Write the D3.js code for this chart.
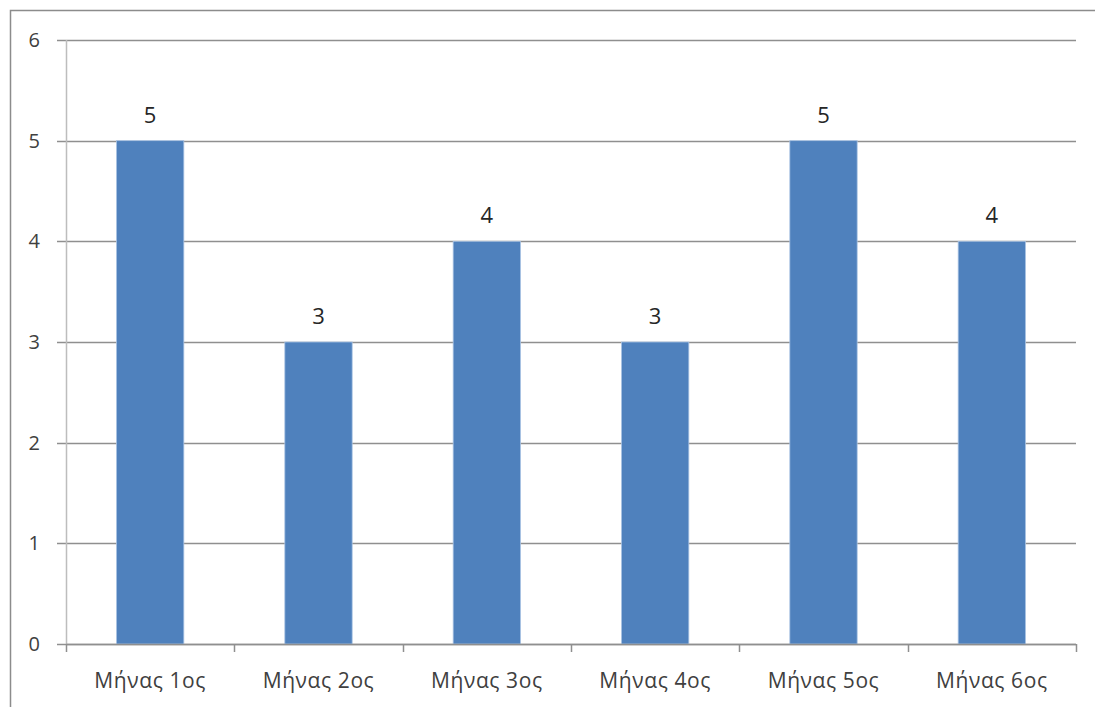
<!DOCTYPE html>
<html>
<head>
<meta charset="utf-8">
<script src="https://cdn.jsdelivr.net/npm/d3@7"></script>
<style>
  body { margin: 0; background: #fff; }
  text { font-family: "Open Sans", "Liberation Sans", sans-serif; fill: #404040; }
</style>
</head>
<body>
<script>
const months = ["Μήνας 1ος", "Μήνας 2ος", "Μήνας 3ος", "Μήνας 4ος", "Μήνας 5ος", "Μήνας 6ος"];
const counts = [5, 3, 4, 3, 5, 4];
const yTicks = [0, 1, 2, 3, 4, 5, 6];

const width = 1095, height = 707;
const plotLeft = 66, plotRight = 1076, plotTop = 40, plotBottom = 644;

const svg = d3.select("body").append("svg")
    .attr("width", width)
    .attr("height", height);

// outer chart border (only left/top visible in the picture)
svg.append("path")
    .attr("d", `M10.5,${height} V10.5 H${width}`)
    .attr("fill", "none")
    .attr("stroke", "#8c8c8c")
    .attr("stroke-width", 1.5);

const x = d3.scaleBand().domain(months).range([plotLeft, plotRight]).paddingInner(0.6).paddingOuter(0.3);
const y = d3.scaleLinear().domain([0, 6]).range([plotBottom, plotTop]);

// gridlines
svg.append("g")
    .selectAll("line")
    .data(yTicks)
    .enter().append("line")
    .attr("x1", plotLeft - 9)
    .attr("x2", plotRight)
    .attr("y1", d => Math.round(y(d)) + 0.5)
    .attr("y2", d => Math.round(y(d)) + 0.5)
    .attr("stroke", "#8f8f8f")
    .attr("stroke-width", 1.5);

// y labels
svg.append("g")
    .selectAll("text")
    .data(yTicks)
    .enter().append("text")
    .attr("x", 40)
    .attr("y", d => y(d) + 7)
    .attr("text-anchor", "end")
    .style("font-size", "20px")
    .text(d => d);

// y axis line
svg.append("line")
    .attr("x1", plotLeft + 0.5).attr("x2", plotLeft + 0.5)
    .attr("y1", plotTop).attr("y2", plotBottom)
    .attr("stroke", "#bdbdbd")
    .attr("stroke-width", 1.5);

// bars
svg.append("g")
    .selectAll("rect")
    .data(counts)
    .enter().append("rect")
    .attr("x", (d, i) => x(months[i]))
    .attr("y", d => y(d))
    .attr("width", x.bandwidth())
    .attr("height", d => y(0) - y(d))
    .attr("fill", "#4f81bd")
    .attr("stroke", "#a9c3e3")
    .attr("stroke-width", 0.8);

// value labels
svg.append("g")
    .selectAll("text")
    .data(counts)
    .enter().append("text")
    .attr("x", (d, i) => x(months[i]) + x.bandwidth() / 2)
    .attr("y", d => y(d) - 18)
    .attr("text-anchor", "middle")
    .style("font-size", "22px")
    .style("fill", "#262626")
    .text(d => d);

// x axis with category boundary ticks
const step = (plotRight - plotLeft) / months.length;
svg.append("line")
    .attr("x1", plotLeft).attr("x2", plotRight)
    .attr("y1", plotBottom + 0.5).attr("y2", plotBottom + 0.5)
    .attr("stroke", "#8f8f8f")
    .attr("stroke-width", 1.5);
svg.append("g")
    .selectAll("line")
    .data(d3.range(months.length + 1))
    .enter().append("line")
    .attr("x1", i => Math.round(plotLeft + i * step) + 0.5)
    .attr("x2", i => Math.round(plotLeft + i * step) + 0.5)
    .attr("y1", plotBottom)
    .attr("y2", plotBottom + 8)
    .attr("stroke", "#8f8f8f")
    .attr("stroke-width", 1.5);

svg.append("g")
    .selectAll("text")
    .data(months)
    .enter().append("text")
    .attr("x", d => x(d) + x.bandwidth() / 2)
    .attr("y", 688)
    .attr("text-anchor", "middle")
    .style("font-size", "21px")
    .style("letter-spacing", "0.6px")
    .text(d => d);
</script>
</body>
</html>
